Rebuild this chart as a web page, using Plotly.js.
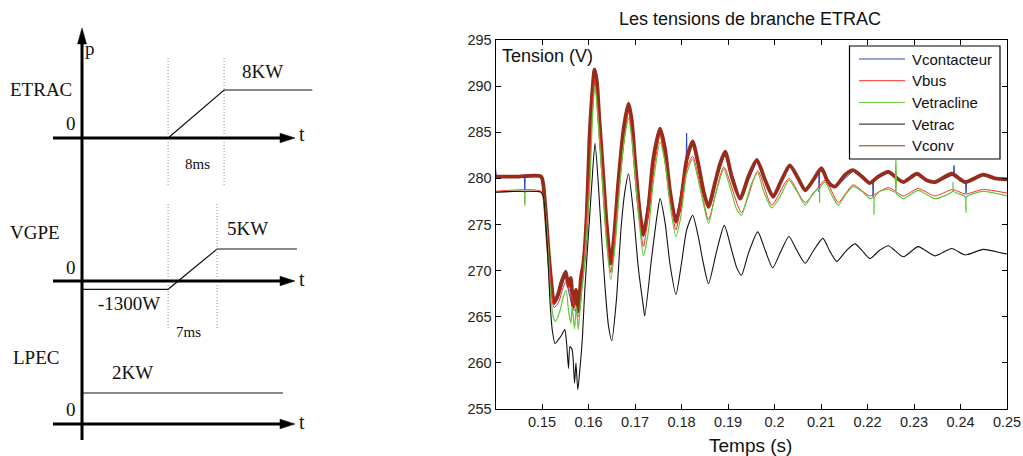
<!DOCTYPE html>
<html><head><meta charset="utf-8">
<script src="https://cdn.plot.ly/plotly-3.0.1.min.js"></script>
<style>html,body{margin:0;padding:0;background:#fff}#chart{width:1023px;height:456px}</style>
</head><body><div id="chart"></div>
<script>
// ---------------- main chart data (time in s, voltage in V) ----------------
const seriesNames = ["Vcontacteur", "Vbus", "Vetracline", "Vetrac", "Vconv"];

const tVcontacteur = [0.1400,0.1402,0.1462,0.1463,0.1464,0.1498,0.1506,0.1514,0.1526,0.1535,0.1551,0.1557,0.1567,0.1578,0.1589,0.1602,0.1613,0.1623,0.1639,0.1648,0.1664,0.1686,0.1700,0.1718,0.1739,0.1754,0.1775,0.1788,0.1810,0.1811,0.1812,0.1824,0.1847,0.1858,0.1872,0.1894,0.1926,0.1962,0.1997,0.2033,0.2066,0.2095,0.2096,0.2097,0.2130,0.2169,0.2205,0.2211,0.2212,0.2213,0.2245,0.2277,0.2306,0.2345,0.2385,0.2386,0.2387,0.2411,0.2412,0.2413,0.2449,0.2500];
const vVcontacteur = [281.1,280.2,280.2,278.8,280.2,280.2,277.4,272.0,266.3,267.0,269.6,267.8,265.8,265.4,270.6,284.0,291.9,286.5,275.0,270.6,279.3,288.0,281.8,273.7,281.8,285.3,278.5,275.2,281.8,284.9,282.0,283.9,278.6,276.8,279.4,282.8,277.7,281.9,277.9,281.3,278.6,280.9,278.5,281.0,279.0,280.8,279.4,279.7,278.0,279.8,280.6,279.5,280.4,279.5,280.4,281.4,280.4,279.5,278.4,279.5,280.3,279.8];

const tVbus = [0.1400,0.1498,0.1506,0.1514,0.1526,0.1535,0.1551,0.1562,0.1578,0.1589,0.1603,0.1613,0.1623,0.1639,0.1648,0.1666,0.1686,0.1704,0.1718,0.1739,0.1754,0.1775,0.1788,0.1811,0.1824,0.1847,0.1858,0.1891,0.1929,0.1964,0.1994,0.2031,0.2066,0.2109,0.2137,0.2169,0.2205,0.2245,0.2277,0.2309,0.2345,0.2383,0.2410,0.2449,0.2500];
const vVbus = [278.6,278.6,277.0,272.0,266.0,266.5,268.8,267.5,265.0,270.0,281.5,290.8,285.6,274.0,269.8,279.0,287.2,279.0,272.6,280.4,284.6,278.0,274.4,281.0,282.4,277.6,275.5,281.2,276.3,280.8,277.1,280.0,277.4,279.8,277.4,279.3,278.1,279.0,278.1,278.9,278.1,278.8,278.3,278.8,278.4];

const tVetracline = [0.1400,0.1462,0.1463,0.1464,0.1498,0.1503,0.1511,0.1517,0.1524,0.1529,0.1539,0.1546,0.1552,0.1557,0.1562,0.1565,0.1570,0.1574,0.1578,0.1584,0.1589,0.1596,0.1603,0.1609,0.1614,0.1619,0.1623,0.1632,0.1639,0.1648,0.1657,0.1666,0.1675,0.1686,0.1695,0.1704,0.1711,0.1718,0.1729,0.1739,0.1754,0.1765,0.1775,0.1788,0.1798,0.1811,0.1824,0.1836,0.1847,0.1858,0.1872,0.1891,0.1904,0.1919,0.1929,0.1940,0.1951,0.1964,0.1976,0.1994,0.2012,0.2031,0.2048,0.2066,0.2083,0.2096,0.2097,0.2098,0.2109,0.2123,0.2137,0.2155,0.2169,0.2188,0.2205,0.2213,0.2214,0.2215,0.2226,0.2245,0.2260,0.2261,0.2262,0.2277,0.2309,0.2345,0.2383,0.2384,0.2385,0.2410,0.2412,0.2413,0.2449,0.2500];
const vVetracline = [278.5,278.5,277.1,278.5,278.5,278.0,274.0,268.6,265.0,264.5,265.7,267.2,267.9,265.7,264.3,266.1,263.7,266.1,263.6,267.2,269.3,274.0,279.5,287.0,290.0,287.5,284.6,278.0,273.0,269.0,272.6,278.4,283.5,286.5,283.4,278.0,274.4,271.6,274.3,279.4,283.9,281.6,277.3,273.7,275.7,280.5,282.1,279.8,277.3,275.1,278.0,281.0,279.1,276.6,276.0,277.7,279.5,280.6,278.7,276.8,278.0,279.8,278.6,277.1,278.4,278.9,277.4,279.0,279.6,278.2,277.1,278.4,279.1,278.6,277.8,277.9,276.1,277.9,278.6,278.8,278.5,282.0,278.4,277.8,278.7,277.8,278.6,279.6,278.6,278.0,276.3,278.0,278.6,278.1];

const tVetrac = [0.1400,0.1498,0.1503,0.1511,0.1517,0.1522,0.1528,0.1535,0.1542,0.1549,0.1553,0.1557,0.1560,0.1565,0.1570,0.1573,0.1577,0.1582,0.1587,0.1592,0.1600,0.1607,0.1614,0.1621,0.1628,0.1636,0.1643,0.1650,0.1660,0.1670,0.1678,0.1686,0.1696,0.1707,0.1718,0.1721,0.1736,0.1747,0.1754,0.1765,0.1775,0.1788,0.1800,0.1811,0.1824,0.1836,0.1847,0.1858,0.1876,0.1892,0.1908,0.1919,0.1929,0.1944,0.1964,0.1980,0.1996,0.2012,0.2031,0.2048,0.2066,0.2083,0.2104,0.2119,0.2134,0.2155,0.2173,0.2188,0.2205,0.2226,0.2245,0.2277,0.2309,0.2345,0.2381,0.2410,0.2449,0.2489,0.2500];
const vVetrac = [278.5,278.5,278.0,273.0,266.8,263.6,262.1,262.5,263.0,263.6,262.1,259.4,261.8,261.4,257.8,260.0,257.1,259.6,262.8,267.9,274.0,279.3,283.8,279.5,273.7,267.9,264.0,262.4,266.8,274.6,278.5,280.5,276.6,270.4,266.1,265.1,271.5,275.8,277.8,275.1,270.8,267.4,270.8,274.4,276.0,273.7,270.8,268.6,272.2,274.9,272.2,270.3,269.5,271.9,274.2,272.2,270.3,271.9,273.7,272.2,270.8,272.1,273.5,272.1,271.0,272.2,272.9,272.2,271.3,272.2,272.7,271.5,272.6,271.6,272.4,271.7,272.3,271.9,271.8];

const tVconv = [0.1400,0.1450,0.1498,0.1506,0.1514,0.1519,0.1526,0.1535,0.1542,0.1551,0.1557,0.1562,0.1567,0.1573,0.1578,0.1584,0.1589,0.1596,0.1602,0.1606,0.1613,0.1618,0.1623,0.1632,0.1639,0.1648,0.1655,0.1664,0.1675,0.1686,0.1693,0.1700,0.1709,0.1718,0.1729,0.1739,0.1754,0.1765,0.1775,0.1788,0.1798,0.1811,0.1824,0.1836,0.1847,0.1858,0.1872,0.1883,0.1894,0.1908,0.1926,0.1944,0.1962,0.1980,0.1997,0.2015,0.2033,0.2051,0.2066,0.2083,0.2101,0.2116,0.2130,0.2152,0.2169,0.2188,0.2205,0.2223,0.2245,0.2259,0.2277,0.2306,0.2327,0.2345,0.2381,0.2410,0.2449,0.2474,0.2500];
const vVconv = [280.2,280.2,280.2,277.6,272.2,269.3,266.5,267.5,268.8,269.9,268.3,269.2,266.1,267.9,265.7,269.3,270.8,275.8,284.2,287.8,291.8,290.5,286.7,280.2,275.1,270.8,273.7,279.5,285.2,288.1,286.3,282.0,276.9,273.9,276.9,282.0,285.4,283.1,278.7,275.3,277.3,282.0,284.0,281.6,278.7,276.9,279.5,281.6,282.9,280.2,277.8,280.2,282.0,279.8,278.0,279.8,281.4,280.0,278.7,279.8,281.1,279.5,279.1,280.4,280.9,280.2,279.5,280.2,280.7,280.2,279.6,280.5,279.8,279.6,280.5,279.6,280.4,280.0,279.9];

const xTickVals = [0.15,0.16,0.17,0.18,0.19,0.20,0.21,0.22,0.23,0.24,0.25];
const xTickText = ["0.15","0.16","0.17","0.18","0.19","0.2","0.21","0.22","0.23","0.24","0.25"];
const yTickVals = [255,260,265,270,275,280,285,290,295];

// ---------------- left schematic data (time in ms, power in kW) ----------------
const etracT = [12.3, 20.3, 32.9];   const etracP = [0, 8, 8];
const vgpeT  = [0, 12.3, 19.3, 30.7]; const vgpeP = [-1.3, -1.3, 5, 5];
const lpecT  = [0, 28.7];            const lpecP = [2, 2];
const etracRamp = [12.3, 20.3];  // 8 ms ramp
const vgpeRamp  = [12.3, 19.3];  // 7 ms ramp
const panelNames = ["ETRAC", "VGPE", "LPEC"];
const levelLabels = ["8KW", "5KW", "-1300W", "2KW"];
const rampLabels = ["8ms", "7ms"];

// ---------------- styling / layout ----------------
const W = 1023, H = 456;
const px = x => x / W, py = y => 1 - y / H;
const colors = ["#2748c2", "#ff2a2a", "#63c63a", "#111111", "#962c1c"];
const widths = [1, 1, 1.2, 1.1, 3.8];
const shapesOf = ["linear", "spline", "spline", "spline", "spline"];
const seriesT = [tVcontacteur, tVbus, tVetracline, tVetrac, tVconv];
const seriesV = [vVcontacteur, vVbus, vVetracline, vVetrac, vVconv];
const drawOrder = [0, 4, 1, 2, 3];
const sans = "Liberation Sans, Arial, sans-serif";
const serif = "Liberation Serif, Times New Roman, serif";

const traces = [];
drawOrder.forEach(i => traces.push({
  x: seriesT[i], y: seriesV[i], name: seriesNames[i], type: "scatter", mode: "lines",
  line: {color: colors[i], width: widths[i], shape: shapesOf[i], smoothing: 0.6},
  xaxis: "x", yaxis: "y", hoverinfo: "skip"
}));

// schematic axes: 1 ms = 7 px, t=0 at x=82 px
const msPx = 7, originPx = 82;
function panelY(top, bottom, base, perKW) {
  return {domain: [py(bottom), py(top)], range: [(base - bottom) / perKW, (base - top) / perKW],
          visible: false, fixedrange: true, anchor: "x2"};
}
const schem = [[etracT, etracP, "y2"], [vgpeT, vgpeP, "y3"], [lpecT, lpecP, "y4"]];
schem.forEach(s => traces.push({x: s[0], y: s[1], type: "scatter", mode: "lines",
  line: {color: "#111", width: 1.2}, xaxis: "x2", yaxis: s[2], hoverinfo: "skip", showlegend: false}));

const shapes = [];
const annotations = [];
function hLine(x0, x1, y, w) { shapes.push({type: "line", xref: "paper", yref: "paper", x0: px(x0), x1: px(x1), y0: py(y), y1: py(y), line: {color: "#000", width: w}}); }
function tri(pts) {
  shapes.push({type: "path", xref: "paper", yref: "paper",
    path: "M" + pts.map(p => px(p[0]) + "," + py(p[1])).join("L") + "Z",
    fillcolor: "#000", line: {color: "#000", width: 0.5}});
}
shapes.push({type: "line", xref: "paper", yref: "paper", x0: px(82), x1: px(82), y0: py(440), y1: py(42), line: {color: "#000", width: 3}});
tri([[82, 28], [77.5, 44], [86.5, 44]]);
[138, 281, 424].forEach(y => { hLine(53, 282, y, 3); tri([[295, y], [280, y - 4.8], [280, y + 4.8]]); });

function vMark(t, y0, y1) {
  shapes.push({type: "line", xref: "x2", yref: "paper", x0: t, x1: t, y0: py(y1), y1: py(y0),
    line: {color: "#8a8a8a", width: 1, dash: "1px,2px"}});
}
etracRamp.forEach(t => vMark(t, 58, 185));
vgpeRamp.forEach(t => vMark(t, 202, 328));

function txt(s, x, y, size, font, anchor) {
  annotations.push({text: s, x: px(x), y: py(y), xref: "paper", yref: "paper", showarrow: false,
    xanchor: anchor || "center", yanchor: "middle", font: {family: font, size: size, color: "#111"}});
}
txt("p", 90, 49, 19, serif);
txt(panelNames[0], 40.5, 89, 19, serif);
txt(panelNames[1], 35, 232, 19, serif);
txt(panelNames[2], 35.5, 357, 19, serif);
[123, 267, 409].forEach(y => txt("0", 70.5, y, 19, serif));
[134, 279, 422].forEach(y => txt("t", 302, y, 20, serif));
txt(levelLabels[0], 262, 71, 19, serif);
txt(levelLabels[1], 247, 229, 19, serif);
txt(levelLabels[2], 128.8, 303, 19, serif);
txt(levelLabels[3], 132, 372, 19, serif);
txt(rampLabels[0], 197.8, 164, 15, serif);
txt(rampLabels[1], 188, 332, 15, serif);

txt("Tension (V)", 499.5, 56, 18, sans, "left");
txt("Temps (s)", 750, 445, 19, sans);

shapes.push({type: "rect", xref: "paper", yref: "paper", x0: px(849.5), x1: px(1000), y0: py(159), y1: py(46),
  fillcolor: "#fff", line: {color: "#000", width: 1.2}, layer: "above"});
seriesNames.forEach((n, i) => {
  const y = 59 + i * 21.7;
  shapes.push({type: "line", xref: "paper", yref: "paper", x0: px(859), x1: px(905), y0: py(y), y1: py(y),
    line: {color: colors[i], width: 1}, layer: "above"});
  annotations.push({text: n, x: px(910), y: py(y), xref: "paper", yref: "paper", showarrow: false,
    xanchor: "left", yanchor: "middle", font: {family: sans, size: 15, color: "#111"}});
});

const layout = {
  width: W, height: H, autosize: false, showlegend: false,
  margin: {l: 0, r: 0, t: 0, b: 0, pad: 0},
  paper_bgcolor: "#fff", plot_bgcolor: "#fff",
  title: {text: "Les tensions de branche ETRAC", x: px(750), y: py(19), xanchor: "center", yanchor: "middle",
          font: {family: sans, size: 18, color: "#111"}},
  xaxis: {domain: [px(495.5), px(1007)], range: [0.14, 0.25], tickvals: xTickVals, ticktext: xTickText,
          ticks: "inside", ticklen: 5, tickcolor: "#000", showline: true, linecolor: "#000", linewidth: 1,
          mirror: "ticks", showgrid: false, zeroline: false, tickfont: {family: sans, size: 14.5, color: "#222"},
          anchor: "y", fixedrange: true},
  yaxis: {domain: [py(409), py(40)], range: [255, 295], tickvals: yTickVals,
          ticks: "inside", ticklen: 5, tickcolor: "#000", showline: true, linecolor: "#000", linewidth: 1,
          mirror: "ticks", showgrid: false, zeroline: false, tickfont: {family: sans, size: 14.5, color: "#222"},
          anchor: "x", fixedrange: true},
  xaxis2: {domain: [0, px(330)], range: [(0 - originPx) / msPx, (330 - originPx) / msPx], visible: false,
           fixedrange: true, anchor: "y2"},
  yaxis2: panelY(50, 160, 138, 6),
  yaxis3: panelY(200, 340, 281, 6.4),
  yaxis4: panelY(370, 440, 424, 15.5),
  shapes: shapes, annotations: annotations
};

Plotly.newPlot("chart", traces, layout, {staticPlot: true, displayModeBar: false});
</script></body></html>
